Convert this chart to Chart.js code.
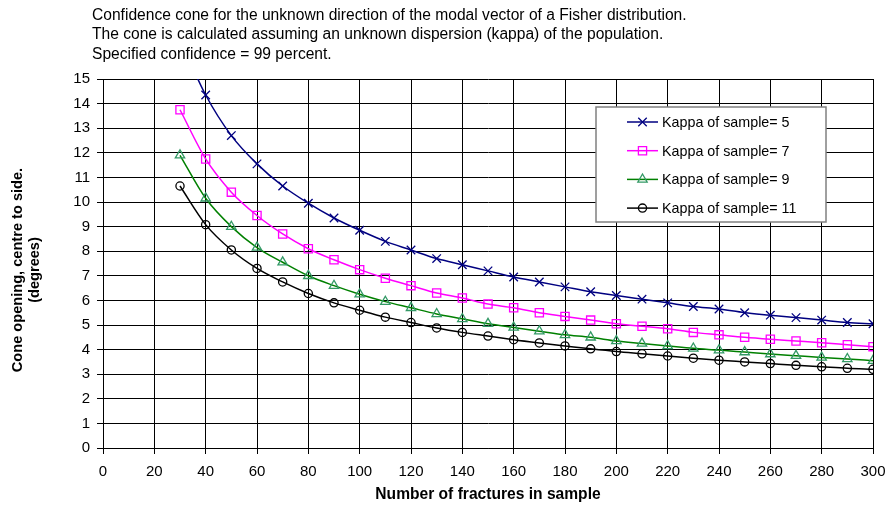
<!DOCTYPE html>
<html>
<head>
<meta charset="utf-8">
<script src="https://cdn.jsdelivr.net/npm/chart.js@4/dist/chart.umd.min.js"></script>
<style>
  html, body { margin: 0; padding: 0; background: #fff; }
  #wrap { width: 887px; height: 506px; }
</style>
</head>
<body>
<div id="wrap"><canvas id="coneChart" width="887" height="506"></canvas></div>
<script>
// sample sizes (number of fractures)
var samples = [30, 40, 50, 60, 70, 80, 90, 100, 110, 120, 130, 140, 150, 160,
               170, 180, 190, 200, 210, 220, 230, 240, 250, 260, 270, 280, 290, 300];

// cone opening in degrees
var kappa5 = [16.6, 14.35, 12.7, 11.55, 10.65, 9.95, 9.35, 8.85, 8.4, 8.05, 7.7, 7.45, 7.2, 6.95,
              6.75, 6.55, 6.35, 6.2, 6.05, 5.9, 5.75, 5.65, 5.5, 5.4, 5.3, 5.2, 5.1, 5.05];
var kappa7 = [13.75, 11.75, 10.4, 9.45, 8.7, 8.1, 7.65, 7.25, 6.9, 6.6, 6.3, 6.1, 5.85, 5.7,
              5.5, 5.35, 5.2, 5.05, 4.95, 4.85, 4.7, 4.6, 4.5, 4.42, 4.35, 4.28, 4.2, 4.12];
var kappa9 = [11.9, 10.15, 9.0, 8.15, 7.55, 7.0, 6.6, 6.25, 5.95, 5.7, 5.45, 5.25, 5.05, 4.9,
              4.75, 4.6, 4.5, 4.35, 4.25, 4.15, 4.05, 3.98, 3.9, 3.82, 3.75, 3.68, 3.62, 3.55];
var kappa11 = [10.65, 9.08, 8.05, 7.3, 6.75, 6.28, 5.9, 5.6, 5.32, 5.1, 4.88, 4.7, 4.55, 4.4,
               4.27, 4.15, 4.03, 3.92, 3.83, 3.74, 3.65, 3.57, 3.5, 3.43, 3.36, 3.3, 3.24, 3.2];

var seriesLabels = ['Kappa of sample= 5', 'Kappa of sample= 7', 'Kappa of sample= 9', 'Kappa of sample= 11'];

var titleLines = [
    'Confidence cone for the unknown direction of the modal vector of a Fisher distribution.',
    'The cone is calculated assuming an unknown dispersion (kappa) of the population.',
    'Specified confidence = 99 percent.'
];
var yTitle = ['Cone opening, centre to side.', '(degrees)'];

var FONT = 'Arial, "Liberation Sans", sans-serif';

function pts(values) {
    return samples.map(function (n, i) { return { x: n, y: values[i] }; });
}

function series(label, values, lineColor, markerColor, style, radius) {
    return {
        label: label,
        data: pts(values),
        borderColor: lineColor,
        borderWidth: 1.5,
        pointStyle: style,
        pointRadius: radius,
        pointHoverRadius: radius,
        pointBorderColor: markerColor,
        pointBackgroundColor: 'rgba(0,0,0,0)',
        pointBorderWidth: 1.3,
        cubicInterpolationMode: 'monotone',
        fill: false
    };
}

// three-line title top left + rotated y title
var headerPlugin = {
    id: 'header',
    afterDraw: function (chart) {
        var c = chart.ctx;
        c.save();
        c.font = '15.6px ' + FONT;
        c.fillStyle = '#000';
        c.textBaseline = 'middle';
        c.textAlign = 'left';
        titleLines.forEach(function (t, i) { c.fillText(t, 92, 15.5 + i * 19.5); });

        c.font = 'bold 14.6px ' + FONT;
        c.textAlign = 'center';
        c.translate(0, 270);
        c.rotate(-Math.PI / 2);
        yTitle.forEach(function (t, i) { c.fillText(t, 0, 17.5 + i * 17); });
        c.restore();
    }
};

// boxed legend inside the plot area
var boxLegend = {
    id: 'boxLegend',
    afterDatasetsDraw: function (chart) {
        var c = chart.ctx;
        var x = 596, y = 107, w = 230, h = 115;
        c.save();
        c.fillStyle = '#fff';
        c.fillRect(x, y, w, h);
        c.strokeStyle = '#808080';
        c.lineWidth = 1.5;
        c.strokeRect(x, y, w, h);
        c.font = '14.3px ' + FONT;
        c.textBaseline = 'middle';
        c.textAlign = 'left';
        chart.data.datasets.forEach(function (ds, i) {
            var ry = 122 + i * 28.7;
            c.strokeStyle = ds.borderColor;
            c.lineWidth = 1.5;
            c.beginPath();
            c.moveTo(627, ry);
            c.lineTo(658, ry);
            c.stroke();
            c.strokeStyle = ds.pointBorderColor;
            c.fillStyle = 'rgba(0,0,0,0)';
            c.lineWidth = ds.pointBorderWidth;
            Chart.helpers.drawPoint(c, { pointStyle: ds.pointStyle, radius: ds.pointRadius, borderWidth: ds.pointBorderWidth, rotation: 0 }, 642.5, ry);
            c.fillStyle = '#000';
            c.fillText(ds.label, 662, ry + 1);
        });
        c.restore();
    }
};

var ctx = document.getElementById('coneChart').getContext('2d');

var coneChart = new Chart(ctx, {
    type: 'line',
    data: {
        datasets: [
            series(seriesLabels[0], kappa5, '#000080', '#000080', 'crossRot', 6),
            series(seriesLabels[1], kappa7, '#FF00FF', '#FF00FF', 'rect', 5.8),
            series(seriesLabels[2], kappa9, '#008000', '#339966', 'triangle', 5.4),
            series(seriesLabels[3], kappa11, '#000000', '#000000', 'circle', 4.1)
        ]
    },
    options: {
        responsive: false,
        animation: false,
        events: [],
        layout: {
            padding: { top: 79, right: 14, left: 0, bottom: 0 }
        },
        plugins: {
            legend: { display: false },
            tooltip: { enabled: false }
        },
        scales: {
            x: {
                type: 'linear',
                min: 0,
                max: 300,
                ticks: { stepSize: 20, color: '#000', padding: 9, font: { family: FONT, size: 15 } },
                grid: { color: '#000', lineWidth: 1, tickLength: 6 },
                border: { color: '#000', width: 1 },
                title: {
                    display: true,
                    text: 'Number of fractures in sample',
                    color: '#000',
                    font: { family: FONT, size: 15.6, weight: 'bold' },
                    padding: { bottom: 2, top: 0 }
                },
                afterFit: function (scale) {
                    scale.height = 58;
                    scale.paddingLeft = 0;
                    scale.paddingRight = 0;
                }
            },
            y: {
                min: 0,
                max: 15,
                ticks: { stepSize: 1, color: '#000', padding: 7, font: { family: FONT, size: 15 } },
                grid: { color: '#000', lineWidth: 1, tickLength: 6 },
                border: { color: '#000', width: 1 },
                afterFit: function (scale) { scale.width = 103; }
            }
        }
    },
    plugins: [headerPlugin, boxLegend]
});
</script>
</body>
</html>
